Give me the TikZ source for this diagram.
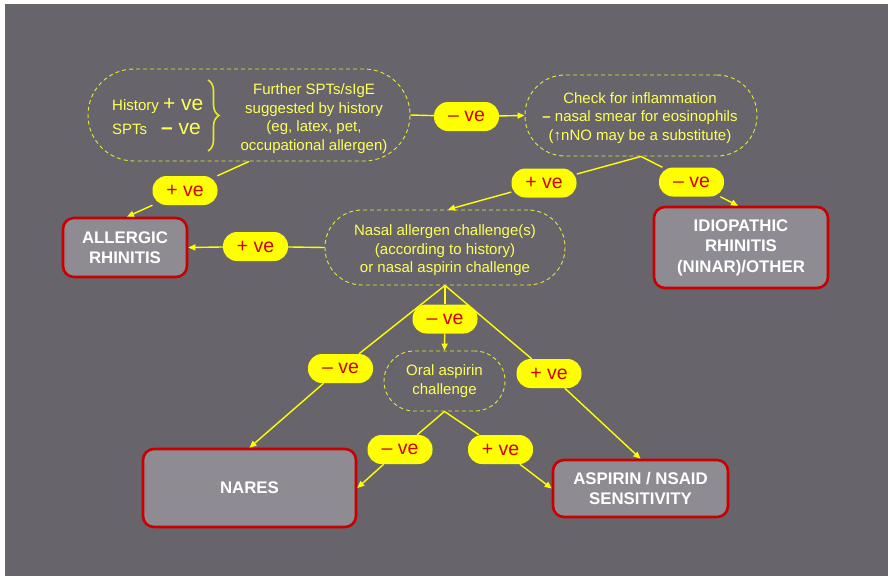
\documentclass[tikz,border=0pt]{standalone}
\usepackage{fontspec}
\setmainfont{Liberation Sans}
\usetikzlibrary{arrows.meta,decorations.pathreplacing}
\definecolor{bgc}{RGB}{103,101,107}
\definecolor{dashy}{RGB}{232,232,50}
\definecolor{ytxt}{RGB}{255,255,90}
\definecolor{liney}{RGB}{255,255,0}
\definecolor{pilly}{RGB}{255,255,0}
\definecolor{pillred}{RGB}{210,0,0}
\definecolor{boxred}{RGB}{200,0,0}
\definecolor{boxgrey}{RGB}{142,140,146}
\begin{document}
\begin{tikzpicture}[x=1pt,y=-1pt,
  dbox/.style={draw=dashy, line width=0.9pt, dash pattern=on 4pt off 3pt, rounded corners=#1, inner sep=0pt},
  ytext/.style={text=ytxt, font=\fontsize{15}{18.5}\selectfont, align=center, inner sep=0pt},
  pill/.style={fill=pilly, rounded corners=14pt, minimum width=65pt, minimum height=29pt, text=pillred, font=\fontsize{19.5}{19.5}\selectfont, inner sep=0pt},
  outbox/.style={draw=boxred, line width=2.6pt, fill=boxgrey, rounded corners=11pt, text=white, font=\bfseries\fontsize{16.8}{20.5}\selectfont, align=center, inner sep=0pt},
  conn/.style={draw=liney, line width=1.4pt},
  arr/.style={conn, -{Triangle[length=7pt,width=6pt]}}]

\fill[bgc] (5,4) rectangle (888,576);
\useasboundingbox (0,0) rectangle (888,576);

% dashed nodes
\node[dbox=46pt, minimum width=322pt, minimum height=92pt] (n1) at (249,115) {};
\node[dbox=40pt, minimum width=232pt, minimum height=81pt] (n2) at (641,115.5) {};
\node[dbox=37pt, minimum width=240pt, minimum height=75pt] (n3) at (445,247.5) {};
\node[dbox=30pt, minimum width=121pt, minimum height=60pt] (oral) at (444.5,381) {};

% texts in dashed nodes
\node[ytext, anchor=base west] (hist) at (112,110) {History \fontsize{21}{21}\selectfont + ve};
\node[ytext, anchor=base west] (spts) at (112,134) {SPTs\hspace{14pt}\fontsize{21}{21}\selectfont\textbf{–} ve};
\draw[dashy, line width=1.6pt, decorate, decoration={brace, amplitude=11pt}] (208,80) -- (208,151);
\node[ytext] (furth) at (314,118.5) {Further SPTs/sIgE\\suggested by history\\(eg, latex, pet,\\occupational allergen)};
\node[ytext] (chk) at (640,118) {Check for inflammation\\\textbf{–} nasal smear for eosinophils\\(↑nNO may be a substitute)};
\node[ytext] (nac) at (445,250.5) {Nasal allergen challenge(s)\\(according to history)\\or nasal aspirin challenge};
\node[ytext] (oat) at (444.5,381) {Oral aspirin\\challenge};

% outcome boxes
\node[outbox, minimum width=124pt, minimum height=59pt] (al) at (125,247.5) {ALLERGIC\\RHINITIS};
\node[outbox, minimum width=174pt, minimum height=81pt] (idio) at (741,247.5) {IDIOPATHIC\\RHINITIS\\(NINAR)/OTHER};
\node[outbox, minimum width=213pt, minimum height=78pt] (nares) at (249.5,488) {NARES};
\node[outbox, minimum width=175pt, minimum height=57pt] (asp) at (640.5,488.5) {ASPIRIN / NSAID\\SENSITIVITY};

% pills
\node[pill] (p1) at (466.5,116.5) {– ve};
\node[pill] (p2) at (185,190.5) {+ ve};
\node[pill] (p3) at (255.5,246.5) {+ ve};
\node[pill] (p4) at (544,183) {+ ve};
\node[pill] (p5) at (691.5,182) {– ve};
\node[pill] (p6) at (445,319) {– ve};
\node[pill] (p7) at (340.5,368.5) {– ve};
\node[pill] (p8) at (549,373.5) {+ ve};
\node[pill] (p9) at (400,449.5) {– ve};
\node[pill] (p10) at (500.5,449.5) {+ ve};

% connectors
\draw[conn] (n1.east) -- (p1);
\draw[arr] (p1) -- (n2.west);
\draw[conn] (n1.south) -- (p2);
\draw[arr] (p2) -- ([xshift=2pt]al.north);
\draw[conn] (n3.west) -- (p3);
\draw[arr] (p3) -- (al.east);
\draw[conn] (n2.south) -- (p4);
\draw[arr] (p4) -- ([xshift=3pt]n3.north);
\draw[conn] (n2.south) -- (p5);
\draw[arr] (p5) -- ([xshift=-3pt]idio.north);
\draw[conn] (n3.south) -- (p6);
\draw[arr] (p6) -- (oral.north);
\draw[conn] (n3.south) -- (p7);
\draw[arr] (p7) -- (nares.north);
\draw[conn] (n3.south) -- (p8);
\draw[arr] (p8) -- (asp.north);
\draw[conn] (oral.south) -- (p9);
\draw[arr] (p9) -- (nares.east);
\draw[conn] (oral.south) -- (p10);
\draw[arr] (p10) -- (asp.west);
\end{tikzpicture}
\end{document}
